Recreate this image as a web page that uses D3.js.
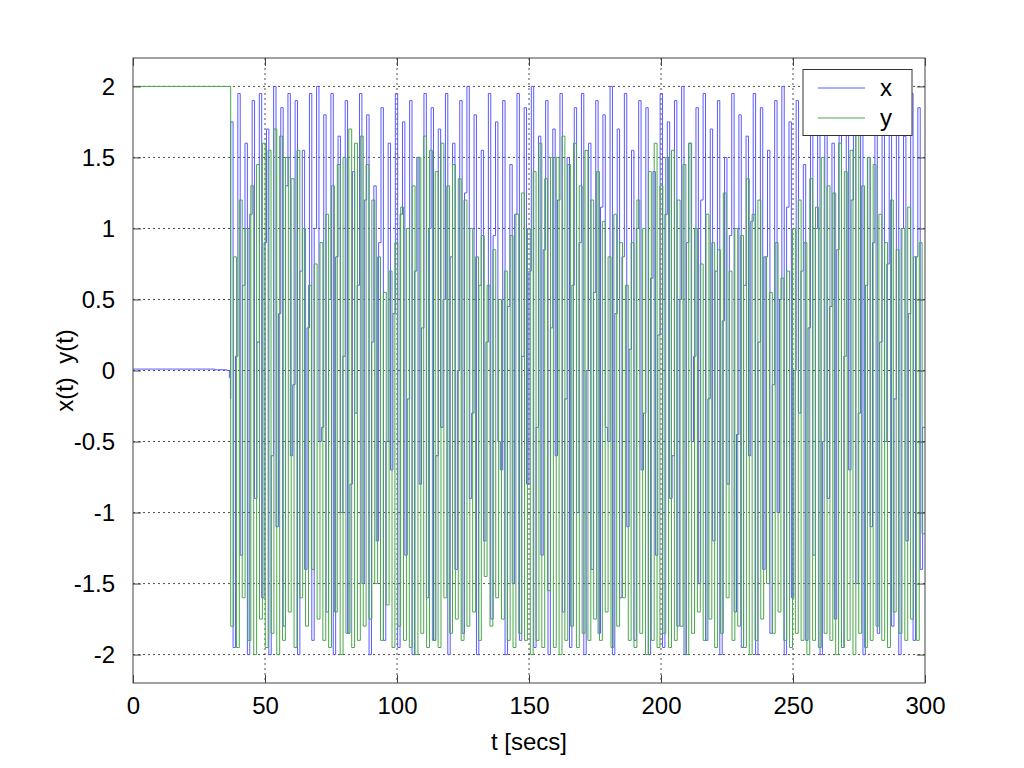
<!DOCTYPE html>
<html>
<head>
<meta charset="utf-8">
<script src="https://cdn.jsdelivr.net/npm/d3@7"></script>
<style>
  html, body { margin: 0; padding: 0; background: #fff; }
  svg { display: block; }
  text { font-family: "Liberation Sans", Arial, Helvetica, sans-serif; }
</style>
</head>
<body>
<svg id="chart" width="1024" height="768"></svg>
<script>
// ---------------- data ----------------
const xTicks = [0, 50, 100, 150, 200, 250, 300];
const yTicks = [-2, -1.5, -1, -0.5, 0, 0.5, 1, 1.5, 2];
const seriesNames = ["x", "y"];
const tStart = 37;   // oscillation onset [secs]
const tEnd = 300;

// quiet phase before onset: [t, value]
const xQuiet = [[0, 0.01], [31, 0.005], [35.5, 0.0], [36.5, -0.05], [36.9, -0.2]];
const yQuiet = [[0, 2], [36.8, 2]];

// successive plateau levels after onset
const xLevels = [
  1.75, -1.95, 0.1, 1.95, -1.3, 0.6, 1.6, -2.0, 1.1, 1.9, -0.9, 0.2, 1.95, -1.6, 0.9, 1.7,
  -2.0, -0.6, 2.0, -1.1, 0.4, 1.85, -1.8, 1.3, 1.95, -0.6, -0.1, 1.9, -2.0, 0.7, 1.55, -1.4,
  0.3, 1.95, -1.9, 1.0, 2.0, -0.5, -0.4, 1.8, -1.7, 0.5, 1.95, -2.0, 0.8, 1.65, -1.0, 0.1,
  1.9, -1.85, -0.8, 1.4, -0.3, 0.6, 1.95, -1.5, 1.2, 1.8, -2.0, 0.2, 1.3, -1.2, 0.9, 1.85,
  -1.9, -0.5, 1.6, -0.7, 0.4, 1.95, -1.95, 1.1, 1.75, -1.3, -0.2, 1.9, -2.0, 0.7, 1.5, -0.8,
  0.3, 1.95, -1.6, 1.0, 1.85, -1.9, -0.6, 1.7, -0.4, 0.5, 1.95, -2.0, 0.8, 1.6, -1.4, 0.0,
  1.9, -1.85, 1.25, 2.0, -0.9, -0.3, 1.8, -2.0, 0.6, 1.55, -1.2, 0.2, 1.95, -1.75, 0.95, 1.75,
  -0.5, -0.7, 1.9, -2.0, 0.45, 1.45, -1.5, 1.1, 1.95, -1.9, 0.1, 1.85, -0.8, 0.7, 2.0, -1.95,
  -0.4, 1.65, -1.3, 0.85, 1.9, -2.0, 0.3, 1.7, -0.6, 1.2, 1.95, -1.7, -0.2, 1.5, -1.95, 0.6,
  1.85, -1.0, 0.9, 1.95, -2.0, 0.0, 1.6, -1.4, 0.55, 1.9, -1.85, 1.15, 1.8, -0.4, -0.5, 2.0,
  -2.0, 0.4, 1.7, -1.6, 0.8, 1.95, -1.1, 0.15, 1.55, -1.9, 1.0, 1.9, -0.7, -0.3, 1.85, -2.0,
  0.65, 1.4, -1.3, 0.25, 1.95, -1.95, 1.1, 1.75, -0.9, -0.6, 1.9, -1.8, 0.5, 2.0, -2.0, 0.9,
  1.6, -0.5, 0.1, 1.85, -1.5, 1.2, 1.95, -1.9, -0.2, 1.7, -1.2, 0.7, 1.9, -2.0, 0.35, 1.5,
  -0.8, 0.95, 1.95, -1.7, -0.45, 1.8, -1.95, 0.6, 1.65, -0.6, 1.05, 1.95, -2.0, 0.2, 1.85, -1.4,
  0.8, 1.55, -1.85, -0.1, 1.9, -1.0, 0.5, 2.0, -2.0, 1.15, 1.75, -1.6, 0.0, 1.9, -0.3, 0.7,
  1.45, -1.9, 0.3, 1.95, -1.3, 1.0, 1.8, -2.0, -0.5, 1.9, -0.9, 0.45, 1.6, -1.75, 0.85, 1.95,
  -1.95, 0.1, 1.85, -0.7, 1.2, 1.7, -1.5, -0.3, 1.95, -2.0, 0.6, 1.5, -1.1, 0.9, 1.9, -1.85,
  0.2, 1.85, -0.5, 0.75, 1.95, -1.8, -0.2, 1.8, -2.0, 1.0, 1.65, -1.2, 0.4, 1.95, -1.9, 0.8,
  1.85, -1.4, -0.4
];
const yLevels = [
  -1.8, 0.8, -1.95, 1.2, -1.6, 1.0, -1.9, 1.3, -2.0, 1.45, -1.75, 1.6, -1.95, 1.55, -1.85, 1.7,
  -2.0, 1.65, -1.9, 1.5, -1.7, 1.35, -1.95, 1.55, -1.6, 1.0, -1.8, 0.6, -1.4, 0.75, -1.75, 0.9,
  -1.9, 1.1, -1.95, 1.3, -1.7, 1.45, -2.0, 1.5, -1.85, 1.7, -1.95, 1.6, -1.9, 1.65, -1.8, 1.45,
  -1.75, 1.2, -1.5, 0.8, -1.9, 0.55, -1.65, 0.7, -1.95, 0.9, -1.8, 1.15, -1.9, 1.0, -1.95, 1.3,
  -2.0, 1.5, -1.85, 1.65, -1.95, 1.55, -1.9, 1.4, -1.95, 1.6, -1.6, 1.3, -1.85, 1.45, -1.75, 1.35,
  -1.9, 1.2, -1.8, 1.0, -1.7, 0.8, -1.9, 0.95, -1.45, 0.6, -1.8, 0.85, -1.6, 0.5, -1.75, 0.7,
  -1.9, 0.95, -1.95, 1.1, -1.85, 1.25, -1.9, 1.0, -2.0, 1.4, -1.9, 1.6, -1.95, 1.35, -1.55, 1.5,
  -1.95, 1.5, -2.0, 1.65, -1.9, 1.45, -1.8, 1.6, -1.95, 1.3, -1.85, 1.55, -1.9, 1.2, -1.75, 1.4,
  -1.9, 1.05, -1.7, 0.8, -1.95, 1.1, -1.8, 0.9, -1.6, 0.6, -1.9, 0.9, -1.95, 1.2, -1.85, 1.0,
  -2.0, 1.4, -1.9, 1.6, -1.95, 1.3, -1.85, 1.5, -1.95, 1.55, -1.9, 1.2, -1.8, 1.45, -2.0, 1.6,
  -1.85, 1.0, -1.7, 0.75, -1.9, 1.1, -1.75, 0.9, -1.95, 0.85, -1.85, 1.25, -1.6, 0.7, -1.9, 1.0,
  -1.8, 0.95, -1.95, 1.35, -2.0, 1.1, -1.9, 1.2, -1.75, 0.8, -1.5, 0.55, -1.85, 0.9, -1.7, 0.65,
  -1.9, 0.7, -1.95, 1.0, -1.85, 1.2, -1.9, 0.9, -2.0, 1.35, -1.9, 1.15, -1.95, 1.5, -1.85, 1.3,
  -1.9, 1.25, -2.0, 1.6, -1.95, 1.4, -1.9, 1.55, -2.0, 1.7, -1.85, 1.3, -1.95, 1.5, -1.9, 1.45,
  -1.8, 1.1, -1.9, 0.9, -1.95, 1.2, -1.7, 0.85, -1.85, 1.0, -1.9, 1.15, -1.75, 0.8, -1.9, 0.9,
  -1.15
];

// ---------------- layout ----------------
const W = 1024, H = 768;
const m = { left: 133, right: 1024 - 925, top: 58, bottom: 768 - 683 };
const iw = W - m.left - m.right, ih = H - m.top - m.bottom;
const xColor = "#5a5aff", yColor = "#4aa84a";

const svg = d3.select("#chart");
const x = d3.scaleLinear().domain([0, 300]).range([m.left, m.left + iw]);
const y = d3.scaleLinear().domain([-2.2, 2.2]).range([m.top + ih, m.top]);

function buildSeries(quiet, levels) {
  const dt = (tEnd - tStart) / levels.length;
  const pts = quiet.slice();
  levels.forEach((v, i) => pts.push([tStart + i * dt, v]));
  pts.push([tEnd, levels[levels.length - 1]]);
  return pts;
}
const xData = buildSeries(xQuiet, xLevels);
const yData = buildSeries(yQuiet, yLevels);

svg.append("rect").attr("x", 0).attr("y", 0).attr("width", W).attr("height", H).attr("fill", "#fff");

// grid
const gridColor = "#222";
svg.append("g").selectAll("line").data(xTicks.slice(1, -1)).join("line")
  .attr("x1", d => x(d)).attr("x2", d => x(d))
  .attr("y1", m.top).attr("y2", m.top + ih)
  .attr("stroke", gridColor).attr("stroke-width", 0.8).attr("stroke-dasharray", "2,3");
svg.append("g").selectAll("line").data(yTicks).join("line")
  .attr("x1", m.left).attr("x2", m.left + iw)
  .attr("y1", d => y(d)).attr("y2", d => y(d))
  .attr("stroke", gridColor).attr("stroke-width", 0.8).attr("stroke-dasharray", "2,3");

// clip
svg.append("clipPath").attr("id", "clip").append("rect")
  .attr("x", m.left).attr("y", m.top).attr("width", iw).attr("height", ih);

const line = d3.line().x(d => x(d[0])).y(d => y(d[1])).curve(d3.curveStepAfter);
const plot = svg.append("g").attr("clip-path", "url(#clip)");
plot.append("path").datum(xData).attr("d", line)
  .attr("fill", "none").attr("stroke", xColor).attr("stroke-width", 1);
plot.append("path").datum(yData).attr("d", line)
  .attr("fill", "none").attr("stroke", yColor).attr("stroke-width", 1);

// axes (ticks inside, MATLAB style)
const axisColor = "#444";
const tickLen = 8;
const fmt = d => String(d);
const axB = svg.append("g").attr("transform", `translate(0,${m.top + ih})`)
  .call(d3.axisBottom(x).tickValues(xTicks).tickSize(-tickLen).tickPadding(14).tickFormat(fmt));
const axT = svg.append("g").attr("transform", `translate(0,${m.top})`)
  .call(d3.axisTop(x).tickValues(xTicks).tickSize(-tickLen).tickFormat(""));
const axL = svg.append("g").attr("transform", `translate(${m.left},0)`)
  .call(d3.axisLeft(y).tickValues(yTicks).tickSize(-tickLen).tickPadding(18).tickFormat(fmt));
const axR = svg.append("g").attr("transform", `translate(${m.left + iw},0)`)
  .call(d3.axisRight(y).tickValues(yTicks).tickSize(-tickLen).tickFormat(""));
[axB, axT, axL, axR].forEach(g => {
  g.select(".domain").remove();
  g.selectAll("line").attr("stroke", axisColor);
  g.selectAll("text").attr("fill", "#000").style("font-size", "24px")
    .style("font-family", "'Liberation Sans', Arial, sans-serif");
});
svg.append("rect").attr("x", m.left).attr("y", m.top).attr("width", iw).attr("height", ih)
  .attr("fill", "none").attr("stroke", axisColor).attr("stroke-width", 1);

// axis labels
svg.append("text").attr("x", x(150)).attr("y", 750).attr("text-anchor", "middle")
  .style("font-size", "24px").text("t [secs]");
svg.append("text").attr("transform", `translate(73,${y(0)}) rotate(-90)`).attr("text-anchor", "middle")
  .style("font-size", "24px").style("white-space", "pre").attr("xml:space", "preserve").text("x(t)  y(t)");

// legend
const lg = svg.append("g");
lg.append("rect").attr("x", 803).attr("y", 69.5).attr("width", 109).attr("height", 66)
  .attr("fill", "#fff").attr("stroke", "#333").attr("stroke-width", 1);
const lgColors = [xColor, yColor];
seriesNames.forEach((s, i) => {
  const yy = 88 + i * 30;
  lg.append("line").attr("x1", 818).attr("x2", 865).attr("y1", yy).attr("y2", yy)
    .attr("stroke", lgColors[i]).attr("stroke-width", 1);
  lg.append("text").attr("x", 880).attr("y", yy + 8).style("font-size", "24px").text(s);
});
</script>
</body>
</html>
